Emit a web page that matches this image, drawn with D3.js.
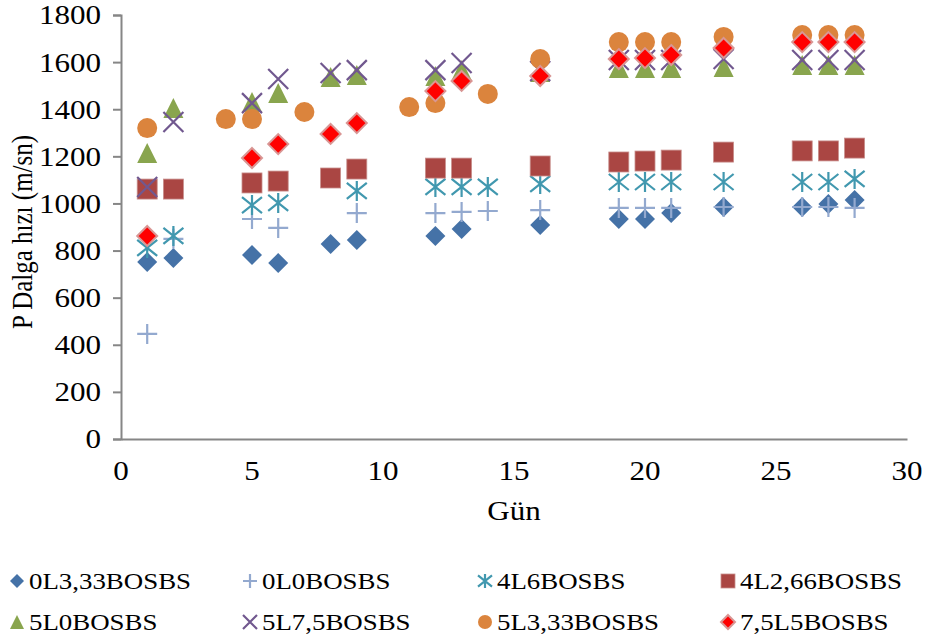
<!DOCTYPE html>
<html>
<head>
<meta charset="utf-8">
<script src="https://cdn.jsdelivr.net/npm/d3@7"></script>
<style>
  body { margin: 0; background: #fff; }
  text { font-family: "Liberation Serif", "Times New Roman", serif; fill: #000; }
</style>
</head>
<body>
<svg id="svg" width="925" height="644"></svg>
<script>
// data
var names = ["0L3,33BOSBS", "0L0BOSBS", "4L6BOSBS", "4L2,66BOSBS", "5L0BOSBS", "5L7,5BOSBS", "5L3,33BOSBS", "7,5L5BOSBS"];

var days0 = [1,2,5,6,8,9,12,13,16,19,20,21,23,26,27,28];
var vals0 = [751,768,781,747,828,845,862,891,908,934,934,959,985,985,998,1015];

var days1 = [1,2,5,6,9,12,13,14,16,19,20,21,23,26,27,28];
var vals1 = [446,850,934,896,959,959,964,968,972,981,981,981,985,985,985,981];

var days2 = [1,2,5,6,9,12,13,14,16,19,20,21,23,26,27,28];
var vals2 = [811,862,993,1002,1053,1070,1070,1070,1083,1091,1091,1091,1091,1091,1091,1104];

var days3 = [1,2,5,6,8,9,12,13,16,19,20,21,23,26,27,28];
var vals3 = [1061,1061,1087,1095,1108,1146,1150,1150,1159,1176,1180,1184,1218,1223,1223,1235];

var days4 = [1,2,5,6,8,9,12,13,16,19,20,21,23,26,27,28];
var vals4 = [1214,1405,1431,1469,1537,1545,1541,1566,1558,1575,1575,1575,1579,1588,1588,1588];

var days5 = [1,2,5,6,8,9,12,13,16,19,20,21,23,26,27,28];
var vals5 = [1070,1346,1426,1528,1554,1566,1566,1596,1562,1609,1609,1609,1613,1609,1609,1609];

var days6 = [1,4,5,7,11,12,14,16,19,20,21,23,26,27,28];
var vals6 = [1320,1358,1358,1388,1409,1426,1465,1613,1685,1685,1685,1707,1715,1715,1715];

var days7 = [1,5,6,8,9,12,13,16,19,20,21,23,26,27,28];
var vals7 = [862,1193,1252,1295,1341,1477,1520,1541,1613,1617,1630,1660,1685,1685,1685];

var xTicks = [0,5,10,15,20,25,30];
var yTicks = [0,200,400,600,800,1000,1200,1400,1600,1800];

var allDays = [days0,days1,days2,days3,days4,days5,days6,days7];
var allVals = [vals0,vals1,vals2,vals3,vals4,vals5,vals6,vals7];

var shapes = ["diamond","plus","asterisk","square","triangle","cross","circle","diamond2"];
var colors = ["#4572A7","#93A9CF","#4198AF","#AA4643","#89A54E","#71588F","#DB843D","#FF0000"];

var svg = d3.select("#svg");
var sx = 1.15; // text in the picture is a bit wide

var x = d3.scaleLinear().domain([0,30]).range([121,907]);
var y = d3.scaleLinear().domain([0,1800]).range([439,15]);

// axes
var yAxis = d3.axisLeft(y).tickValues(yTicks).tickSize(8).tickFormat("");
var yG = svg.append("g").attr("transform", "translate(121,0)").call(yAxis);
yG.select(".domain").attr("stroke", "#868686").attr("stroke-width", 2);
yG.selectAll(".tick line").attr("stroke", "#868686").attr("stroke-width", 2);

var xAxis = d3.axisBottom(x).tickValues(xTicks).tickSize(0).tickFormat("");
var xG = svg.append("g").attr("transform", "translate(0,439)").call(xAxis);
xG.select(".domain").attr("stroke", "#868686").attr("stroke-width", 2);

// tick labels
svg.selectAll(".ylab").data(yTicks).enter()
  .append("g").attr("class","ylab")
  .attr("transform", d => `translate(101,${y(d)}) scale(${sx},1)`)
  .append("text")
  .attr("text-anchor","end").attr("dy","0.35em")
  .style("font-size","27px")
  .text(d => d);

svg.selectAll(".xlab").data(xTicks).enter()
  .append("g").attr("class","xlab")
  .attr("transform", d => `translate(${x(d)},471) scale(${sx},1)`)
  .append("text")
  .attr("text-anchor","middle").attr("dy","0.35em")
  .style("font-size","27px")
  .text(d => d);

// axis titles
svg.append("g").attr("transform", `translate(514,511) scale(${sx},1)`)
  .append("text").attr("text-anchor","middle").attr("dy","0.35em")
  .style("font-size","27px").text("Gün");

svg.append("g").attr("transform", `translate(22,232) scale(1.15,1) rotate(-90)`)
  .append("text").attr("text-anchor","middle").attr("dy","0.35em")
  .style("font-size","25px").text("P Dalga hızı (m/sn)");

// marker drawing
function marker(g, shape, color, s) {
  var h = s/2;
  if (shape==="diamond") {
    g.append("path").attr("d", `M0,${-h}L${h},0L0,${h}L${-h},0Z`).attr("fill", color);
  } else if (shape==="diamond2") {
    g.append("path").attr("d", `M0,${-h}L${h},0L0,${h}L${-h},0Z`)
      .attr("fill", color).attr("stroke","#D99694").attr("stroke-width",2);
  } else if (shape==="square") {
    g.append("rect").attr("x",-h).attr("y",-h).attr("width",s).attr("height",s)
      .attr("fill", color).attr("stroke","#C98F8D").attr("stroke-width",0.8);
  } else if (shape==="circle") {
    g.append("circle").attr("r",h).attr("fill",color);
  } else if (shape==="triangle") {
    g.append("path").attr("d", `M0,${-h}L${h},${h}L${-h},${h}Z`).attr("fill",color);
  } else if (shape==="plus") {
    g.append("path").attr("d", `M${-h},0L${h},0M0,${-h}L0,${h}`)
      .attr("stroke",color).attr("stroke-width",2.2).attr("fill","none");
  } else if (shape==="cross") {
    g.append("path").attr("d", `M${-h},${-h}L${h},${h}M${h},${-h}L${-h},${h}`)
      .attr("stroke",color).attr("stroke-width",2.2).attr("fill","none");
  } else if (shape==="asterisk") {
    g.append("path").attr("d", `M${-h},${-h*0.8}L${h},${h*0.8}M${h},${-h*0.8}L${-h},${h*0.8}M0,${-h}L0,${h}`)
      .attr("stroke",color).attr("stroke-width",2.2).attr("fill","none");
  }
}

// points
allDays.forEach(function(days, si){
  var pts = days.map((d,i) => ({day:d, val:allVals[si][i]}));
  var gs = svg.append("g").attr("class","series"+si)
    .selectAll("g").data(pts).enter().append("g")
    .attr("transform", d => `translate(${x(d.day)},${y(d.val)})`);
  gs.each(function(){ marker(d3.select(this), shapes[si], colors[si], 20); });
});

// legend
var legX = [17,250,485,728];
var legY = [581,622];
names.forEach(function(n, i){
  var col = i % 4, row = Math.floor(i/4);
  var g = svg.append("g").attr("transform", `translate(${legX[col]},${legY[row]})`);
  marker(g, shapes[i], colors[i], 14);
  g.append("g").attr("transform", `translate(12,0) scale(1.12,1)`)
    .append("text").attr("dy","0.35em").style("font-size","24px").text(n);
});
</script>
</body>
</html>
